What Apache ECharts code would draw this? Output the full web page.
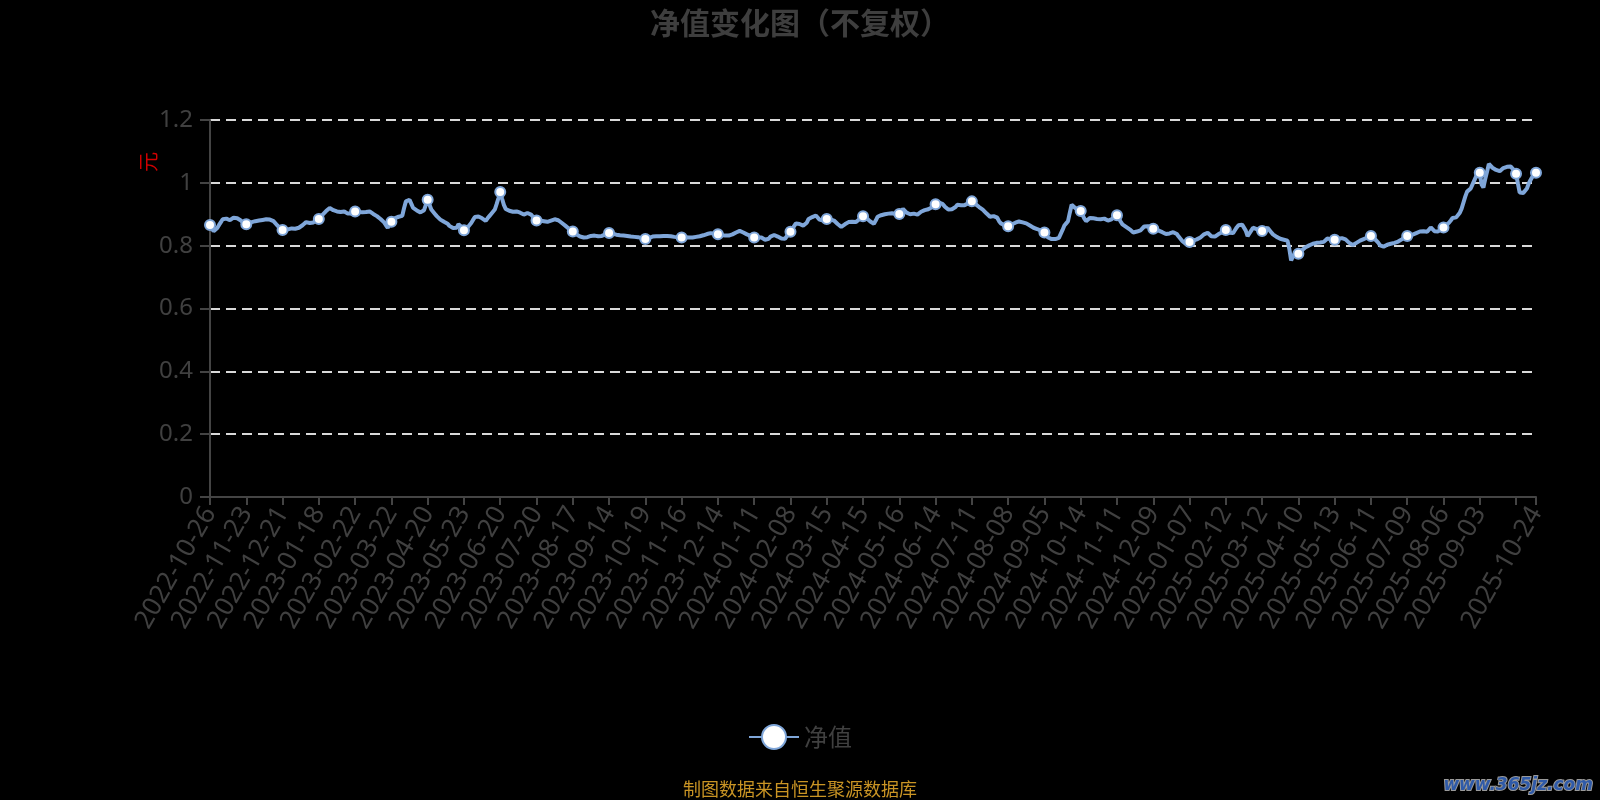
<!DOCTYPE html>
<html>
<head>
<meta charset="utf-8">
<title>净值变化图（不复权）</title>
<script src="https://cdn.jsdelivr.net/npm/echarts@6/dist/echarts.min.js"></script>
<style>
  html, body { margin: 0; padding: 0; background: #000; }
  #chart { width: 1600px; height: 800px; }
</style>
</head>
<body>
<div id="chart"></div>
<script>
// trading calendar of the fund: weekdays minus exchange holidays, plus quarter-end NAV days
const startDate = '2022-10-26'
const endDate = '2025-10-24'
const marketHolidays = [
  '2023-01-02', '2023-01-23', '2023-01-24', '2023-01-25', '2023-01-26', '2023-01-27',
  '2023-04-05', '2023-05-01', '2023-05-02', '2023-05-03', '2023-06-22', '2023-06-23',
  '2023-09-29', '2023-10-02', '2023-10-03', '2023-10-04', '2023-10-05', '2023-10-06',
  '2024-01-01', '2024-02-09', '2024-02-12', '2024-02-13', '2024-02-14', '2024-02-15',
  '2024-02-16', '2024-04-04', '2024-04-05', '2024-05-01', '2024-05-02', '2024-05-03',
  '2024-06-10', '2024-09-16', '2024-09-17', '2024-10-01', '2024-10-02', '2024-10-03',
  '2024-10-04', '2024-10-07',
  '2025-01-01', '2025-01-28', '2025-01-29', '2025-01-30', '2025-01-31', '2025-02-03',
  '2025-02-04', '2025-04-04', '2025-05-01', '2025-05-02', '2025-05-05', '2025-06-02',
  '2025-10-01', '2025-10-02', '2025-10-03', '2025-10-06', '2025-10-07', '2025-10-08'
]
const quarterEndDays = ['2022-12-31', '2023-09-30', '2023-12-31', '2024-03-31', '2024-06-30']

// 单位净值 (元), one per date
const navValues = [
  0.866, 0.855, 0.846, 0.845, 0.856, 0.866, 0.875, 0.884, 0.889, 0.886, 0.883, 0.881, 0.885, 0.889, 0.891, 0.887, 0.883, 0.880, 0.877, 0.872,
  0.868, 0.870, 0.873, 0.875, 0.877, 0.878, 0.879, 0.880, 0.881, 0.882, 0.883, 0.884, 0.885, 0.883, 0.880, 0.878, 0.872, 0.865, 0.859, 0.854,
  0.850, 0.851, 0.853, 0.852, 0.854, 0.855, 0.853, 0.854, 0.854, 0.857, 0.861, 0.865, 0.870, 0.875, 0.873, 0.872, 0.871, 0.874, 0.878, 0.882,
  0.885, 0.891, 0.898, 0.904, 0.910, 0.916, 0.920, 0.917, 0.913, 0.911, 0.909, 0.908, 0.907, 0.908, 0.909, 0.906, 0.902, 0.899, 0.902, 0.906,
  0.909, 0.908, 0.907, 0.907, 0.906, 0.906, 0.907, 0.908, 0.909, 0.905, 0.901, 0.897, 0.894, 0.889, 0.885, 0.880, 0.874, 0.865, 0.857, 0.866,
  0.876, 0.882, 0.888, 0.894, 0.892, 0.890, 0.895, 0.920, 0.941, 0.945, 0.946, 0.933, 0.920, 0.916, 0.912, 0.909, 0.906, 0.904, 0.913, 0.930,
  0.946, 0.930, 0.915, 0.908, 0.901, 0.894, 0.889, 0.883, 0.878, 0.876, 0.874, 0.870, 0.863, 0.857, 0.856, 0.855, 0.857, 0.868, 0.870, 0.858,
  0.849, 0.853, 0.858, 0.862, 0.872, 0.882, 0.891, 0.892, 0.893, 0.894, 0.887, 0.881, 0.879, 0.887, 0.894, 0.901, 0.908, 0.915, 0.932, 0.951,
  0.971, 0.950, 0.930, 0.917, 0.913, 0.911, 0.909, 0.908, 0.910, 0.909, 0.909, 0.905, 0.902, 0.899, 0.902, 0.904, 0.906, 0.899, 0.892, 0.886,
  0.880, 0.880, 0.880, 0.879, 0.878, 0.876, 0.876, 0.878, 0.880, 0.882, 0.884, 0.885, 0.881, 0.876, 0.872, 0.868, 0.863, 0.858, 0.853, 0.849,
  0.845, 0.840, 0.836, 0.832, 0.829, 0.827, 0.826, 0.825, 0.827, 0.829, 0.831, 0.833, 0.832, 0.831, 0.830, 0.829, 0.831, 0.834, 0.836, 0.838,
  0.840, 0.839, 0.838, 0.836, 0.835, 0.834, 0.833, 0.832, 0.832, 0.831, 0.831, 0.830, 0.829, 0.829, 0.828, 0.828, 0.827, 0.826, 0.824, 0.822,
  0.821, 0.822, 0.825, 0.827, 0.829, 0.830, 0.830, 0.831, 0.830, 0.831, 0.831, 0.832, 0.831, 0.830, 0.830, 0.829, 0.828, 0.828, 0.827, 0.827,
  0.826, 0.826, 0.827, 0.826, 0.826, 0.827, 0.826, 0.827, 0.828, 0.829, 0.830, 0.832, 0.833, 0.835, 0.837, 0.839, 0.840, 0.839, 0.838, 0.837,
  0.836, 0.835, 0.834, 0.833, 0.832, 0.831, 0.832, 0.834, 0.836, 0.839, 0.842, 0.845, 0.847, 0.845, 0.842, 0.839, 0.836, 0.834, 0.831, 0.828,
  0.826, 0.827, 0.826, 0.826, 0.826, 0.822, 0.819, 0.816, 0.822, 0.829, 0.835, 0.834, 0.831, 0.829, 0.826, 0.823, 0.821, 0.822, 0.830, 0.838,
  0.844, 0.853, 0.862, 0.871, 0.872, 0.869, 0.866, 0.864, 0.862, 0.873, 0.885, 0.889, 0.891, 0.894, 0.896, 0.890, 0.883, 0.878, 0.880, 0.883,
  0.885, 0.884, 0.884, 0.883, 0.880, 0.875, 0.869, 0.864, 0.860, 0.864, 0.868, 0.872, 0.875, 0.875, 0.876, 0.875, 0.875, 0.879, 0.884, 0.889,
  0.894, 0.891, 0.887, 0.883, 0.877, 0.871, 0.870, 0.880, 0.892, 0.896, 0.897, 0.899, 0.900, 0.901, 0.902, 0.902, 0.903, 0.902, 0.901, 0.901,
  0.901, 0.909, 0.917, 0.911, 0.905, 0.899, 0.900, 0.901, 0.902, 0.901, 0.899, 0.903, 0.908, 0.912, 0.913, 0.914, 0.916, 0.917, 0.922, 0.927,
  0.932, 0.935, 0.937, 0.938, 0.932, 0.925, 0.919, 0.915, 0.916, 0.916, 0.917, 0.923, 0.930, 0.932, 0.929, 0.927, 0.929, 0.932, 0.935, 0.938,
  0.941, 0.937, 0.932, 0.928, 0.923, 0.919, 0.915, 0.909, 0.903, 0.897, 0.892, 0.893, 0.894, 0.894, 0.889, 0.878, 0.871, 0.868, 0.865, 0.863,
  0.862, 0.865, 0.868, 0.871, 0.873, 0.875, 0.877, 0.876, 0.874, 0.872, 0.871, 0.867, 0.864, 0.860, 0.857, 0.855, 0.853, 0.851, 0.848, 0.845,
  0.842, 0.834, 0.826, 0.823, 0.821, 0.819, 0.821, 0.823, 0.825, 0.830, 0.850, 0.864, 0.871, 0.878, 0.905, 0.930, 0.925, 0.920, 0.917, 0.913,
  0.910, 0.898, 0.886, 0.878, 0.883, 0.888, 0.889, 0.887, 0.886, 0.885, 0.887, 0.884, 0.885, 0.886, 0.882, 0.880, 0.878, 0.884, 0.890, 0.894,
  0.897, 0.887, 0.877, 0.868, 0.864, 0.860, 0.857, 0.852, 0.847, 0.842, 0.843, 0.845, 0.846, 0.849, 0.855, 0.861, 0.865, 0.862, 0.859, 0.857,
  0.854, 0.852, 0.850, 0.848, 0.847, 0.843, 0.840, 0.837, 0.837, 0.839, 0.841, 0.843, 0.844, 0.837, 0.829, 0.823, 0.815, 0.809, 0.805, 0.808,
  0.812, 0.814, 0.816, 0.818, 0.820, 0.822, 0.826, 0.831, 0.836, 0.840, 0.841, 0.835, 0.830, 0.826, 0.829, 0.833, 0.837, 0.840, 0.843, 0.847,
  0.850, 0.846, 0.841, 0.837, 0.840, 0.849, 0.858, 0.865, 0.866, 0.867, 0.868, 0.848, 0.830, 0.836, 0.848, 0.857, 0.855, 0.853, 0.851, 0.849,
  0.847, 0.850, 0.854, 0.857, 0.852, 0.843, 0.836, 0.831, 0.828, 0.825, 0.822, 0.821, 0.819, 0.818, 0.816, 0.790, 0.753, 0.765, 0.774, 0.773,
  0.774, 0.780, 0.786, 0.791, 0.795, 0.798, 0.801, 0.804, 0.806, 0.808, 0.809, 0.809, 0.810, 0.810, 0.812, 0.818, 0.823, 0.822, 0.820, 0.819,
  0.819, 0.820, 0.822, 0.823, 0.824, 0.824, 0.820, 0.815, 0.809, 0.804, 0.802, 0.805, 0.809, 0.813, 0.816, 0.818, 0.821, 0.823, 0.826, 0.829,
  0.831, 0.827, 0.822, 0.817, 0.810, 0.801, 0.795, 0.797, 0.800, 0.803, 0.805, 0.806, 0.808, 0.809, 0.810, 0.813, 0.817, 0.820, 0.824, 0.828,
  0.831, 0.832, 0.834, 0.835, 0.837, 0.840, 0.842, 0.845, 0.847, 0.846, 0.845, 0.844, 0.850, 0.858, 0.855, 0.846, 0.842, 0.845, 0.850, 0.854,
  0.858, 0.863, 0.868, 0.873, 0.880, 0.888, 0.891, 0.890, 0.893, 0.905, 0.918, 0.937, 0.956, 0.972, 0.977, 0.982, 0.987, 1.008, 1.021, 1.027,
  1.032, 0.995, 0.985, 1.012, 1.035, 1.060, 1.055, 1.048, 1.043, 1.041, 1.039, 1.037, 1.042, 1.047, 1.050, 1.051, 1.051, 1.052, 1.049, 1.040,
  1.029, 0.998, 0.969, 0.968, 0.968, 0.967, 0.982, 0.998, 1.009, 1.019, 1.022, 1.032
]

function buildNavDates(start, end) {
  const closed = new Set(marketHolidays)
  const extra = new Set(quarterEndDays)
  const out = []
  const d = new Date(start + 'T00:00:00Z')
  const last = new Date(end + 'T00:00:00Z')
  while (d <= last) {
    const key = d.toISOString().slice(0, 10)
    const wd = d.getUTCDay()
    if (extra.has(key) || (wd !== 0 && wd !== 6 && !closed.has(key))) {
      out.push(key)
    }
    d.setUTCDate(d.getUTCDate() + 1)
  }
  return out
}

const navDates = buildNavDates(startDate, endDate)
const lastIdx = navDates.length - 1
const step = 20

const chart = echarts.init(document.getElementById('chart'))

chart.setOption({
  animation: false,
  backgroundColor: '#000',
  textStyle: { fontFamily: '"Noto Sans", "Noto Sans CJK SC", sans-serif' },
  title: [
    {
      text: '净值变化图（不复权）',
      left: 'center',
      top: 3,
      textStyle: {
        color: '#3e3e3e',
        fontSize: 30,
        fontWeight: 'bold',
        fontFamily: '"Noto Sans CJK SC", sans-serif'
      }
    },
    {
      text: '制图数据来自恒生聚源数据库',
      left: 'center',
      top: 775,
      textStyle: {
        color: '#c99424',
        fontSize: 18,
        fontWeight: 'normal',
        fontFamily: '"Noto Sans CJK SC", sans-serif'
      }
    }
  ],
  legend: {
    left: 'center',
    top: 719,
    itemWidth: 50,
    itemHeight: 30,
    itemGap: 10,
    textStyle: {
      color: '#404040',
      fontSize: 24,
      fontFamily: '"Noto Sans CJK SC", sans-serif'
    },
    data: ['净值']
  },
  grid: {
    left: 210,
    right: 64,
    top: 120,
    bottom: 303
  },
  xAxis: {
    type: 'category',
    data: navDates,
    boundaryGap: false,
    axisLine: { lineStyle: { color: '#444', width: 2 } },
    axisTick: {
      length: 8,
      lineStyle: { color: '#444', width: 2 },
      interval: i => i % step === 0 || i === lastIdx
    },
    axisLabel: {
      rotate: 60,
      margin: 12,
      fontSize: 26,
      color: '#404040',
      interval: i => (i % step === 0 && i <= lastIdx - step) || i === lastIdx
    },
    splitLine: { show: false }
  },
  yAxis: {
    type: 'value',
    min: 0,
    max: 1.2,
    interval: 0.2,
    name: '元',
    nameLocation: 'middle',
    nameGap: 52,
    nameMoveOverlap: false,
    nameTextStyle: {
      color: '#d00000',
      fontSize: 20,
      padding: [0, 0, 0, 293],
      fontFamily: '"Noto Sans CJK SC", sans-serif'
    },
    axisLine: { show: true, lineStyle: { color: '#444', width: 2 } },
    axisTick: { show: true, length: 10, lineStyle: { color: '#444', width: 2 } },
    axisLabel: { fontSize: 24, color: '#404040', margin: 17 },
    splitLine: {
      show: true,
      lineStyle: { color: '#d9d9d9', width: 2, type: [10, 6] }
    }
  },
  series: [
    {
      name: '净值',
      type: 'line',
      data: navValues,
      symbol: 'emptyCircle',
      showAllSymbol: true,
      symbolSize: (v, p) => (p.dataIndex % step === 0 || p.dataIndex === lastIdx) ? 10 : 0,
      lineStyle: { color: '#7fa6d9', width: 4 },
      itemStyle: { color: '#7fa6d9', borderWidth: 2 }
    }
  ],
  graphic: [
    {
      type: 'text',
      right: 6,
      bottom: 5,
      style: {
        text: 'www.365jz.com',
        fill: '#2f5aa8',
        stroke: '#9a9a9a',
        lineWidth: 2,
        font: 'italic bold 17px "DejaVu Sans"'
      }
    }
  ]
})

window.addEventListener('resize', () => chart.resize())
</script>
</body>
</html>
